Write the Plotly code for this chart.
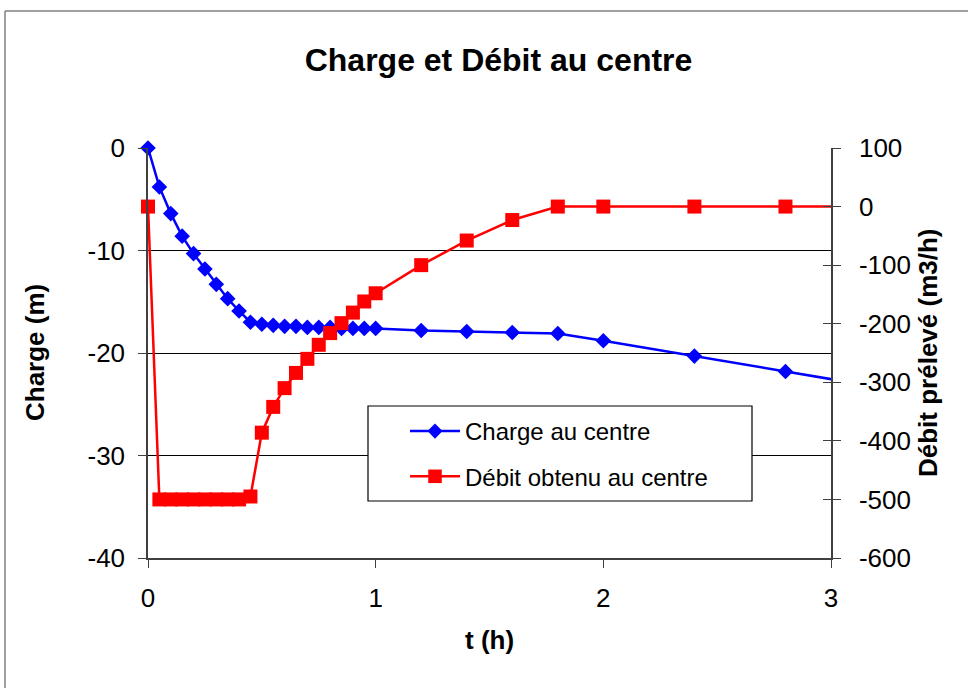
import plotly.graph_objects as go

# Data
t_charge = [0, 0.05, 0.1, 0.15, 0.2, 0.25, 0.3, 0.35, 0.4, 0.45, 0.5, 0.55, 0.6, 0.65,
            0.7, 0.75, 0.8, 0.85, 0.9, 0.95, 1.0, 1.2, 1.4, 1.6, 1.8, 2.0, 2.4, 2.8, 3.2]
charge = [0, -3.8, -6.4, -8.6, -10.3, -11.8, -13.3, -14.7, -15.9, -17.0, -17.2, -17.3,
          -17.4, -17.4, -17.5, -17.5, -17.5, -17.6, -17.6, -17.6, -17.6, -17.8, -17.9,
          -18.0, -18.1, -18.8, -20.3, -21.8, -23.3]

t_debit = [0, 0.05, 0.1, 0.15, 0.2, 0.25, 0.3, 0.35, 0.4, 0.45, 0.5, 0.55, 0.6, 0.65,
           0.7, 0.75, 0.8, 0.85, 0.9, 0.95, 1.0, 1.2, 1.4, 1.6, 1.8, 2.0, 2.4, 2.8, 3.2]
debit = [0, -500, -500, -500, -500, -500, -500, -500, -500, -495, -386, -342, -310,
         -284, -260, -236, -216, -199, -181, -162, -148, -100, -58, -23, 0, 0, 0, 0, 0]

x_ticks = [0, 1, 2, 3]
left_ticks = [0, -10, -20, -30, -40]
right_ticks = [100, 0, -100, -200, -300, -400, -500, -600]

FONT = "Liberation Sans, Arial, sans-serif"
W, H = 968, 688
L, R, T, B = 148, 831, 148, 558
X_MAX = 3


def px(xp):
    return (xp - L) / (R - L)


def py(yp):
    return (B - yp) / (B - T)


# hide markers of points lying beyond the visible x range (line still runs to the edge)
size_charge = [12 if t <= X_MAX else 0 for t in t_charge]
size_debit = [14 if t <= X_MAX else 0 for t in t_debit]

fig = go.Figure()

fig.add_trace(go.Scatter(
    x=t_charge, y=charge, name="Charge au centre", mode="lines+markers",
    line=dict(color="#0000FF", width=2.5),
    marker=dict(symbol="diamond", size=size_charge, color="#0000FF", opacity=1,
                line=dict(width=0)),
    legendgroup="a", yaxis="y", cliponaxis=False,
))
fig.add_trace(go.Scatter(
    x=t_debit, y=debit, name="Débit obtenu au centre", mode="lines+markers",
    line=dict(color="#FF0000", width=2.5),
    marker=dict(symbol="square", size=size_debit, color="#FF0000", opacity=1,
                line=dict(width=0)),
    legendgroup="b", yaxis="y2", cliponaxis=False,
))
# invisible trace to carry the inner-tick overlay axis
fig.add_trace(go.Scatter(x=[None], y=[None], yaxis="y3", showlegend=False,
                         hoverinfo="skip"))

axis_line = "#404040"
tickfont = dict(family=FONT, size=26, color="#000000")

fig.update_layout(
    width=W, height=H,
    margin=dict(l=L, r=W - R, t=T, b=H - B, pad=0),
    paper_bgcolor="white", plot_bgcolor="white",
    title=dict(text="<b>Charge et Débit au centre</b>", x=(305 + 692) / 2 / W,
               xanchor="center", y=1 - 60 / H, yanchor="middle",
               font=dict(family=FONT, size=32, color="#000000")),
    xaxis=dict(range=[0, X_MAX], tickvals=x_ticks, ticktext=[str(v) for v in x_ticks],
               showgrid=False, zeroline=False, showline=True, linecolor=axis_line,
               linewidth=1.5, ticks="outside", ticklen=8, tickcolor=axis_line,
               tickfont=tickfont, ticklabelstandoff=8),
    yaxis=dict(range=[-40, 0], tickvals=left_ticks, ticktext=[str(v) for v in left_ticks],
               showgrid=True, gridcolor="#000000", gridwidth=1, zeroline=False,
               showline=True, linecolor=axis_line, linewidth=1.5, ticks="outside",
               ticklen=8, tickcolor=axis_line, tickfont=tickfont, ticklabelstandoff=8),
    yaxis2=dict(range=[-600, 100], tickvals=right_ticks,
                ticktext=[str(v) for v in right_ticks], overlaying="y", side="right",
                showgrid=False, zeroline=False, showline=True, linecolor=axis_line,
                linewidth=1.5, ticks="outside", ticklen=8, tickcolor=axis_line,
                tickfont=tickfont, ticklabelstandoff=13),
    yaxis3=dict(range=[-600, 100], tickvals=right_ticks, overlaying="y", side="right",
                showgrid=False, zeroline=False, showline=False, ticks="inside",
                ticklen=8, tickcolor=axis_line, showticklabels=False),
    showlegend=True,
    legend=dict(x=px(405), y=py(409), xanchor="left", yanchor="top",
                bgcolor="rgba(0,0,0,0)", borderwidth=0,
                font=dict(family=FONT, size=24, color="#000000"),
                traceorder="grouped", tracegroupgap=11, itemwidth=50),
    annotations=[
        dict(text="<b>t (h)</b>", x=0.5, y=py(640), xref="paper", yref="paper",
             showarrow=False, xanchor="center", yanchor="middle",
             font=dict(family=FONT, size=26, color="#000000")),
        dict(text="<b>Charge (m)</b>", x=px(35), y=0.5, xref="paper", yref="paper",
             showarrow=False, textangle=-90, xanchor="center", yanchor="middle",
             font=dict(family=FONT, size=26, color="#000000")),
        dict(text="<b>Débit prélevé (m3/h)</b>", x=px(928), y=0.5, xref="paper",
             yref="paper", showarrow=False, textangle=-90, xanchor="center",
             yanchor="middle", font=dict(family=FONT, size=26, color="#000000")),
    ],
    shapes=[
        # legend frame
        dict(type="rect", xref="paper", yref="paper", x0=px(368), x1=px(752),
             y0=py(501), y1=py(406), line=dict(color="#000000", width=1.2),
             fillcolor="white", layer="above"),
        # outer chart border
        dict(type="line", xref="paper", yref="paper", x0=px(5), x1=px(5),
             y0=py(700), y1=py(11), line=dict(color="#808080", width=1.5)),
        dict(type="line", xref="paper", yref="paper", x0=px(5), x1=px(980),
             y0=py(11), y1=py(11), line=dict(color="#808080", width=1.5)),
    ],
)

fig.write_html("out.html",
               config={"displayModeBar": False},
               post_script="document.body.style.margin='0';"
                           "document.body.style.padding='0';")
